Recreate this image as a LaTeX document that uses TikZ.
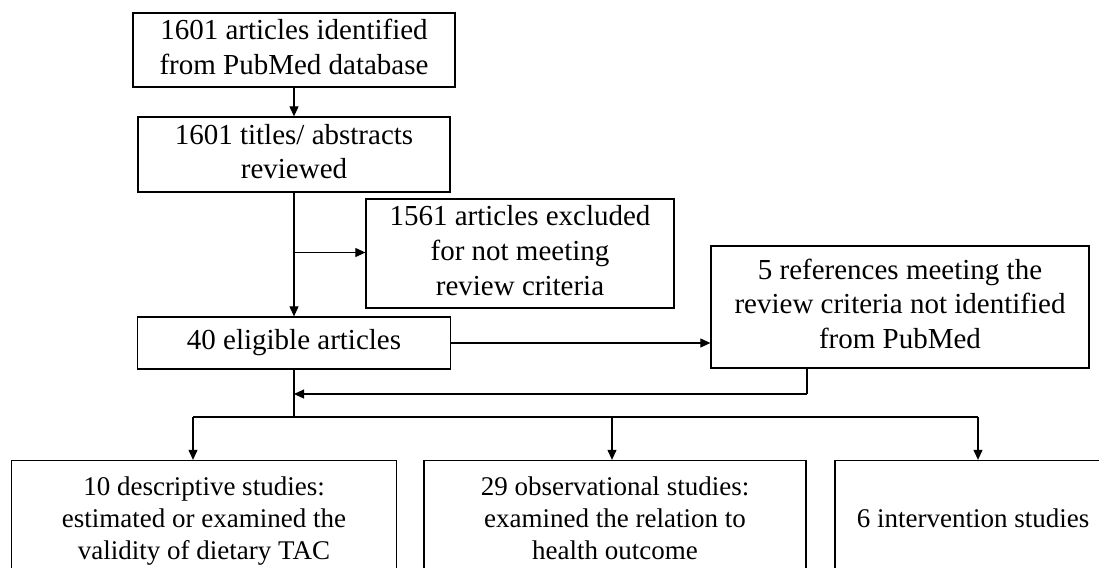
\documentclass[tikz,border=0pt]{standalone}
\usepackage{fontspec}
\setmainfont{Liberation Serif}
\usetikzlibrary{arrows.meta}
\begin{document}
\begin{tikzpicture}[x=1pt,y=-1pt,
  box/.style={draw, line width=1.3pt, inner sep=0pt, align=center, font=\fontsize{29}{34.8}\selectfont},
  sbox/.style={box, font=\fontsize{27}{32}\selectfont},
  conn/.style={line width=1.1pt},
  arr/.style={conn, -{Triangle[length=10pt,width=9pt]}}]
\useasboundingbox (0,0) rectangle (1099,567);
\clip (0,0) rectangle (1099,567);
\fill[white] (0,0) rectangle (1099,567);
\node[box, minimum width=322pt, minimum height=74pt] (n1) at (294,50) {\strut 1601 articles identified\\from PubMed database\strut};
\node[box, minimum width=312pt, minimum height=75pt] (n2) at (294,154.5) {\strut 1601 titles/ abstracts\\reviewed\strut};
\node[box, minimum width=308pt, minimum height=109pt] (n3) at (520,253.5) {\strut 1561 articles excluded\\for not meeting\\review criteria\strut};
\node[box, minimum width=313pt, minimum height=52pt] (n4) at (294,343) {\strut 40 eligible articles};
\node[box, minimum width=378pt, minimum height=122pt] (n5) at (900,307) {\strut 5 references meeting the\\review criteria not identified\\from PubMed\strut};
\node[sbox, minimum width=385pt, minimum height=122pt] (d1) at (204,521.5) {\strut 10 descriptive studies:\\estimated or examined the\\validity of dietary TAC\strut};
\node[sbox, minimum width=382pt, minimum height=122pt] (d2) at (615,521.5) {\strut 29 observational studies:\\examined the relation to\\health outcome\strut};
\node[sbox, minimum width=276pt, minimum height=122pt] (d3) at (973,521.5) {\strut 6 intervention studies};
\draw[arr] (n1.south) -- (n2.north);
\draw[arr] (n2.south) -- (n4.north);
\coordinate (j1) at (294,252.5);
\draw[arr] (j1) -- (j1 -| n3.west);
\draw[arr] (n4.east) -- (n4.east -| n5.west);
\coordinate (j2) at (294,417);
\draw[conn] (n4.south) -- (j2);
\coordinate (b1) at (193,417);
\coordinate (b2) at (612,417);
\coordinate (b3) at (978,417);
\draw[conn] (b1) -- (b3);
\draw[arr] (b1) -- (b1 |- d1.north);
\draw[arr] (b2) -- (b2 |- d2.north);
\draw[arr] (b3) -- (b3 |- d3.north);
\coordinate (k) at (807,394);
\draw[conn] (k |- n5.south) -- (k);
\draw[arr] (k) -- (k -| j2);
\end{tikzpicture}
\end{document}
